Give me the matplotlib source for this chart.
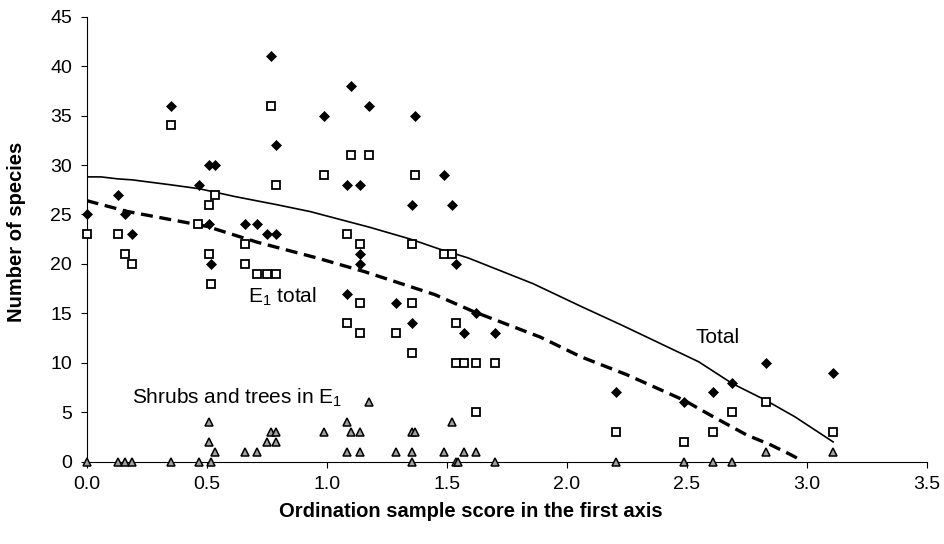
import matplotlib
matplotlib.use("Agg")
import matplotlib.pyplot as plt

plt.rcParams['font.family'] = ['Liberation Sans', 'DejaVu Sans']
plt.rcParams['mathtext.fontset'] = 'custom'
plt.rcParams['mathtext.rm'] = 'Liberation Sans'
plt.rcParams['mathtext.it'] = 'Liberation Sans:italic'
plt.rcParams['mathtext.bf'] = 'Liberation Sans:bold'

# Total number of species (filled diamonds)
total_x = [0.00, 0.13, 0.16, 0.19, 0.35, 0.47, 0.51, 0.535, 0.51, 0.52, 0.66, 0.71,
           0.75, 0.77, 0.79, 0.79, 0.99, 1.10, 1.085, 1.14, 1.085, 1.14, 1.14, 1.175,
           1.29, 1.355, 1.355, 1.37, 1.49, 1.52, 1.54, 1.57, 1.62, 1.70, 2.205, 2.49,
           2.61, 2.69, 2.83, 3.11]
total_y = [25, 27, 25, 23, 36, 28, 30, 30, 24, 20, 24, 24,
           23, 41, 32, 23, 35, 38, 28, 28, 17, 21, 20, 36,
           16, 26, 14, 35, 29, 26, 20, 13, 15, 13, 7, 6,
           7, 8, 10, 9]

# species in E1 layer (open squares)
e1_x = [0.00, 0.13, 0.16, 0.19, 0.35, 0.465, 0.51, 0.535, 0.51, 0.52, 0.66, 0.66,
        0.71, 0.75, 0.77, 0.79, 0.79, 0.99, 1.10, 1.085, 1.14, 1.085, 1.14, 1.14,
        1.175, 1.29, 1.355, 1.355, 1.355, 1.37, 1.49, 1.52, 1.54, 1.54, 1.57, 1.62,
        1.70, 1.62, 2.205, 2.49, 2.61, 2.69, 2.83, 3.11]
e1_y = [23, 23, 21, 20, 34, 24, 26, 27, 21, 18, 22, 20,
        19, 19, 36, 28, 19, 29, 31, 23, 22, 14, 16, 13,
        31, 13, 22, 16, 11, 29, 21, 21, 14, 10, 10, 10,
        10, 5, 3, 2, 3, 5, 6, 3]

# shrubs and trees in E1 (grey triangles)
shrub_x = [0.00, 0.13, 0.16, 0.19, 0.35, 0.47, 0.52, 1.355, 1.54, 1.545, 1.70, 2.205,
           2.49, 2.61, 2.69,
           0.535, 0.66, 0.71, 1.085, 1.14, 1.29, 1.355, 1.49, 1.57, 1.62, 2.83, 3.11,
           0.51, 0.75, 0.79,
           0.77, 0.79, 0.99, 1.10, 1.14, 1.355, 1.37,
           0.51, 1.085, 1.52,
           1.175]
shrub_y = [0, 0, 0, 0, 0, 0, 0, 0, 0, 0, 0, 0,
           0, 0, 0,
           1, 1, 1, 1, 1, 1, 1, 1, 1, 1, 1, 1,
           2, 2, 2,
           3, 3, 3, 3, 3, 3, 3,
           4, 4, 4,
           6]

# fitted trend curves
total_fit_x = [0.00, 0.06, 0.13, 0.19, 0.35, 0.47, 0.62, 0.79, 0.93, 1.18, 1.35, 1.47,
               1.59, 1.86, 2.06, 2.23, 2.55, 2.69, 2.83, 2.95, 3.11]
total_fit_y = [28.8, 28.8, 28.6, 28.5, 28.0, 27.6, 26.8, 26.0, 25.3, 23.7, 22.5, 21.5,
               20.6, 18.0, 15.7, 13.8, 10.1, 7.9, 6.2, 4.55, 2.0]
e1_fit_x = [0.00, 0.17, 0.50, 0.71, 0.96, 1.16, 1.45, 1.61, 1.89, 2.06, 2.25, 2.49,
            2.61, 2.75, 2.85, 2.93, 2.98]
e1_fit_y = [26.4, 25.3, 23.8, 22.2, 20.6, 19.2, 16.9, 15.2, 12.6, 10.6, 8.8, 6.2,
            4.55, 2.7, 1.7, 0.75, 0.1]

fig = plt.figure(figsize=(9.45, 5.44), dpi=100)
ax = fig.add_axes([0.0917, 0.1513, 0.889, 0.818])

ax.plot(total_fit_x, total_fit_y, color='black', lw=1.2)
ax.plot(e1_fit_x, e1_fit_y, color='black', lw=2.4, dashes=(3.6, 2.0))

ax.plot(shrub_x, shrub_y, ls='none', marker='^', ms=6.2, mfc='#a0a0a0', mec='black',
        mew=1.1, clip_on=False, zorder=3)
ax.plot(e1_x, e1_y, ls='none', marker='s', ms=5.6, mfc='white', mec='black',
        mew=1.3, clip_on=False, zorder=4)
ax.plot(total_x, total_y, ls='none', marker='D', ms=5.3, mfc='black', mec='black',
        mew=0.5, clip_on=False, zorder=5)

ax.text(2.535, 12.0, 'Total', fontsize=15, va='baseline')
ax.text(0.673, 16.1, r'E$_\mathrm{1}$ total', fontsize=15, va='baseline')
ax.text(0.187, 5.9, r'Shrubs and trees in E$_\mathrm{1}$', fontsize=15, va='baseline')

ax.set_xlim(0, 3.5)
ax.set_ylim(0, 45)
ax.set_xticks([0.0, 0.5, 1.0, 1.5, 2.0, 2.5, 3.0, 3.5])
ax.set_xticklabels(['0.0', '0.5', '1.0', '1.5', '2.0', '2.5', '3.0', '3.5'])
ax.set_yticks(range(0, 46, 5))
ax.tick_params(direction='out', length=4.5, width=0.8, labelsize=14, pad=6)
for s in ['top', 'right']:
    ax.spines[s].set_visible(False)
for s in ['left', 'bottom']:
    ax.spines[s].set_linewidth(0.8)

ax.set_xlabel('Ordination sample score in the first axis', fontsize=14.5,
              fontweight='bold', va='center')
ax.xaxis.set_label_coords(0.4575, -0.112)
ax.set_ylabel('Number of species', fontsize=14.5, fontweight='bold', va='center')
ax.yaxis.set_label_coords(-0.083, 0.516)

fig.savefig('out.png', dpi=100)
